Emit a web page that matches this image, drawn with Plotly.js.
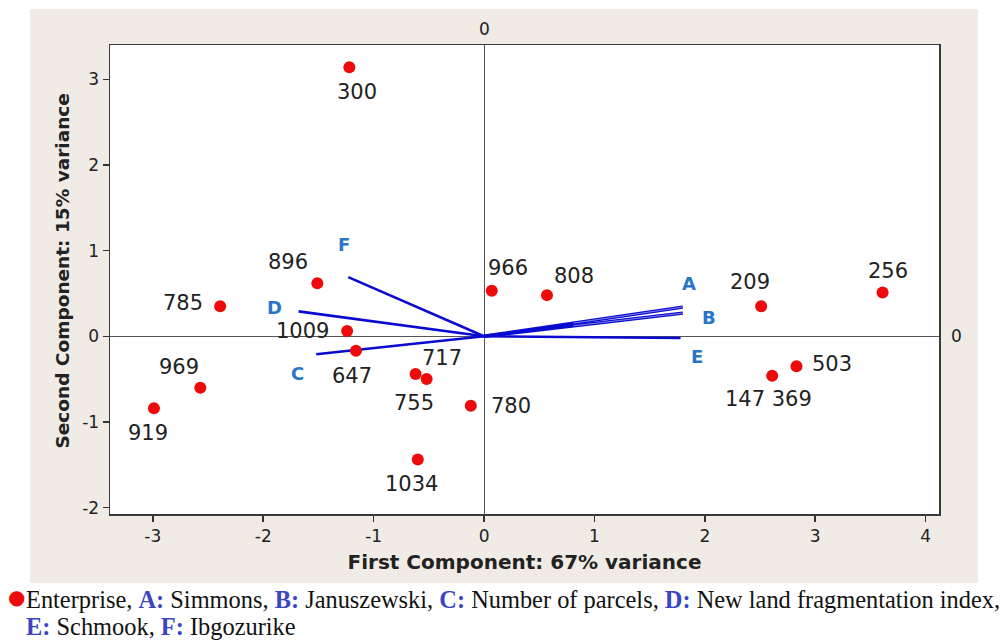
<!DOCTYPE html>
<html>
<head>
<meta charset="utf-8">
<script src="https://cdn.plot.ly/plotly-3.0.1.min.js"></script>
<style>html,body{margin:0;padding:0;background:#fff;}#chart{width:1006px;height:642px;}</style>
</head>
<body>
<div id="chart"></div>
<script>
// ---- data ----
const enterpriseIds = ['300','896','785','1009','647','969','919','755','717','780','1034','966','808','209','256','503','147 369'];
const pc1 = [-1.22,-1.51,-2.39,-1.24,-1.16,-2.57,-2.99,-0.62,-0.52,-0.12,-0.60,0.07,0.57,2.51,3.61,2.83,2.61];
const pc2 = [3.14,0.62,0.35,0.06,-0.17,-0.60,-0.84,-0.44,-0.50,-0.81,-1.44,0.53,0.48,0.35,0.51,-0.35,-0.46];

const vectorNames = ['A','B','C','D','E','F'];
const vectorX = [1.80, 1.80, -1.52, -1.68, 1.78, -1.23];
const vectorY = [0.34, 0.27, -0.21, 0.29, -0.02, 0.69];

const xTickVals = [-3,-2,-1,0,1,2,3,4];
const xTickText = ['-3','-2','-1','0','1','2','3','4'];
const yTickVals = [-2,-1,0,1,2,3];
const yTickText = ['-2','-1','0','1','2','3'];

const xTitle = 'First Component: 67% variance';
const yTitle = 'Second Component: 15% variance';
const captionLine1 = ['Enterprise, ', ['A:',' Simmons, '], ['B:',' Januszewski, '], ['C:',' Number of parcels, '], ['D:',' New land fragmentation index,']];
const captionLine2 = [['E:',' Schmook, '], ['F:',' Ibgozurike']];

// ---- styles (label offsets in pixels: [dx, dy up]) ----
const labelShift = [[8,-25],[-29,21],[-37,3],[-45,0],[-4,-25],[-21,21],[-6,-25],[-2,-29],[15,21],[40,0],[-6,-24],[16,23],[27,19],[-11,24],[5,22],[36,2],[-4,-23]];
const letterShift = {A:[6,24], B:[26,-4], C:[-19,-19], D:[-24,4], E:[16,-19], F:[-4,33]};
const hollowVectors = ['A','B'];
const vecColor = '#0a0ad0';
const letterColor = '#2a76c6';
const capLetterColor = '#3b45c4';
const frameColor = '#f0ebe5';

const traces = [];
vectorNames.forEach((n,i)=>{
  traces.push({x:[0,vectorX[i]], y:[0,vectorY[i]], mode:'lines', type:'scatter',
    line:{color:vecColor, width: hollowVectors.includes(n) ? 3.4 : 2.6}, hoverinfo:'skip', showlegend:false});
});
vectorNames.forEach((n,i)=>{
  if (hollowVectors.includes(n)) {
    traces.push({x:[0.45*vectorX[i],vectorX[i]], y:[0.45*vectorY[i],vectorY[i]], mode:'lines', type:'scatter',
      line:{color:'#9a9af0', width:0.8}, hoverinfo:'skip', showlegend:false});
  }
});
traces.push({x:pc1, y:pc2, mode:'markers', type:'scatter',
  marker:{color:'#ee0a0a', size:12}, showlegend:false, cliponaxis:false});

const annotations = [];
enterpriseIds.forEach((id,i)=>{
  annotations.push({x:pc1[i], y:pc2[i], xref:'x', yref:'y', text:id, showarrow:false,
    xshift:labelShift[i][0], yshift:labelShift[i][1], font:{family:'DejaVu Sans', size:21, color:'#222'}});
});
vectorNames.forEach((n,i)=>{
  annotations.push({x:vectorX[i], y:vectorY[i], xref:'x', yref:'y', text:'<b>'+n+'</b>', showarrow:false,
    xshift:letterShift[n][0], yshift:letterShift[n][1], font:{family:'DejaVu Sans', size:18, color:letterColor}});
});
annotations.push({x:0, y:1, xref:'x', yref:'paper', text:'0', showarrow:false, yanchor:'bottom', yshift:4,
  font:{family:'DejaVu Sans', size:17, color:'#222'}});
annotations.push({x:1, y:0, xref:'paper', yref:'y', text:'0', showarrow:false, xanchor:'left', xshift:10,
  font:{family:'DejaVu Sans', size:17, color:'#222'}});
annotations.push({x:-0.0724, y:0.518, xref:'paper', yref:'paper', text:'<b>'+yTitle+'</b>', showarrow:false,
  textangle:-90, font:{family:'DejaVu Sans', size:18.5, color:'#222'}});

function capHtml(parts){
  return parts.map(p=> typeof p==='string' ? p :
    '<span style="color:'+capLetterColor+'"><b>'+p[0]+'</b></span>'+p[1]).join('');
}
annotations.push({x:-0.1037, y:-0.1503, xref:'paper', yref:'paper', xanchor:'left', yanchor:'top', align:'left',
  text:capHtml(captionLine1), showarrow:false, font:{family:'Liberation Serif', size:24.4, color:'#111'}});
annotations.push({x:-0.1037, y:-0.2075, xref:'paper', yref:'paper', xanchor:'left', yanchor:'top', align:'left',
  text:capHtml(captionLine2), showarrow:false, font:{family:'Liberation Serif', size:24.4, color:'#111'}});
annotations.push({x:-0.1037, y:-0.1503, xref:'paper', yref:'paper', xanchor:'right', yanchor:'top', xshift:3, yshift:1,
  text:'●', showarrow:false, font:{family:'DejaVu Sans', size:20, color:'#ee0a0a'}});

const fx0 = -0.0965, fx1 = 1.047, fy0 = -0.147, fy1 = 1.0768;
function band(x0,x1,y0,y1){
  return {type:'rect', xref:'paper', yref:'paper', x0:x0, x1:x1, y0:y0, y1:y1,
    fillcolor:frameColor, line:{width:0}, layer:'below'};
}

const layout = {
  width:1006, height:642,
  margin:{l:110, r:67, t:45, b:128},
  paper_bgcolor:'#ffffff', plot_bgcolor:'#ffffff',
  showlegend:false,
  xaxis:{range:[-3.388,4.121], tickvals:xTickVals, ticktext:xTickText, ticks:'outside', ticklen:6, tickwidth:1.5,
    tickcolor:'#333', showline:true, linecolor:'#3a3a3a', linewidth:1.5, mirror:true, showgrid:false,
    zeroline:true, zerolinecolor:'#555', zerolinewidth:1,
    tickfont:{family:'DejaVu Sans', size:17, color:'#222'},
    title:{text:'<b>'+xTitle+'</b>', font:{family:'DejaVu Sans', size:20, color:'#222'}, standoff:10}},
  yaxis:{range:[-2.075,3.40], tickvals:yTickVals, ticktext:yTickText, ticks:'outside', ticklen:6, tickwidth:1.5,
    tickcolor:'#333', showline:true, linecolor:'#3a3a3a', linewidth:1.5, mirror:true, showgrid:false,
    zeroline:true, zerolinecolor:'#555', zerolinewidth:1,
    tickfont:{family:'DejaVu Sans', size:17, color:'#222'}},
  shapes:[
    band(fx0, fx1, 1, fy1),
    band(fx0, fx1, fy0, 0),
    band(fx0, 0, 0, 1),
    band(1, fx1, 0, 1)
  ],
  annotations:annotations
};

Plotly.newPlot('chart', traces, layout, {displayModeBar:false, staticPlot:true});
</script>
</body>
</html>
